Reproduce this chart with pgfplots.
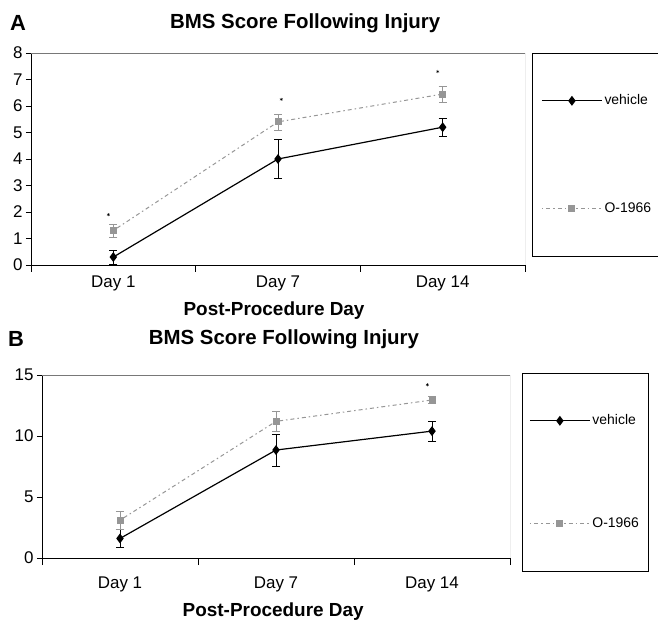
\documentclass[border=0pt]{standalone}
\usepackage{fontspec}
\setmainfont{Liberation Sans}
\usepackage{pgfplots}
\pgfplotsset{compat=1.18}
\definecolor{ogray}{RGB}{150,150,150}
\definecolor{framegray}{RGB}{120,120,120}
\newcommand{\fs}[1]{\fontsize{#1}{#1}\selectfont}
\pgfplotsset{
  bmsstyle/.style={
    scale only axis,
    anchor=south west,
    xmin=-0.5, xmax=2.5,
    xtick={0,1,2},
    xticklabels={Day 1,Day 7,Day 14},
    minor xtick={-0.5,0.5,1.5,2.5},
    major x tick style={draw=none},
    tick align=outside,
    major tick length=5bp,
    minor tick length=7bp,
    tick style={black, line width=0.6pt},
    axis x line*=bottom,
    axis y line*=left,
    axis line style={-, black, line width=0.8pt},
    tick label style={font=\fs{17}},
    /pgf/number format/assume math mode=true,
    xlabel={Post-Procedure Day},
    xlabel style={font=\bfseries\fs{19}, anchor=center},
    title style={font=\bfseries\fs{20.5}, anchor=center},
    legend image code/.code={\draw[mark repeat=2,mark phase=2] plot coordinates {(0bp,0bp) (30bp,0bp) (60bp,0bp)};},
    legend cell align=left,
    legend style={draw=black, line width=0.6pt, fill=white, anchor=north west, font=\fs{14},
      nodes={inner sep=2bp, text height=10bp, text depth=3bp}},
    error bars/y dir=both,
    error bars/y explicit,
    error bars/error mark options={rotate=90, mark size=4bp},
  },
  vehstyle/.style={black, line width=1.2pt, mark=diamond*, mark size=4bp, mark options={solid, fill=black},
    error bars/error bar style={black, line width=0.7pt, solid}},
  ostyle/.style={ogray, line width=1.0pt, dash pattern=on 1.5pt off 3pt on 4pt off 3pt, mark=square*, mark size=3bp, mark options={solid, fill=ogray},
    error bars/error bar style={ogray, line width=0.8pt, solid}},
}
\begin{document}
\begin{tikzpicture}
\useasboundingbox (0,0) rectangle (658bp,621bp);
% ---------- Panel A ----------
\begin{axis}[bmsstyle,
  at={(31bp,356bp)}, width=494bp, height=212bp,
  ymin=0, ymax=8, ytick={0,1,...,8},
  xticklabel style={yshift=-2bp},
  title={BMS Score Following Injury},
  title style={at={(rel axis cs:0.555,1.113)}},
  xlabel style={at={(rel axis cs:0.492,-0.215)}},
  legend style={at={(rel axis cs:1.0142,1)}, inner xsep=9bp, inner ysep=39bp, row sep=91bp},
]
\addplot[vehstyle] coordinates {(0,0.3) +- (0,0.27) (1,4.0) +- (0,0.73) (2,5.2) +- (0,0.35)};
\addlegendentry{vehicle}
\addplot[ostyle] coordinates {(0,1.3) +- (0,0.25) (1,5.4) +- (0,0.3) (2,6.45) +- (0,0.3)};
\addlegendentry{O-1966}
\addplot[only marks, mark=asterisk, mark size=1.6bp, black, forget plot] coordinates {(-0.03,1.9) (1.02,6.25) (1.97,7.3)};
\draw[framegray, line width=0.6pt] (rel axis cs:0,1) -- (rel axis cs:1,1) -- (rel axis cs:1,0);
\end{axis}
% ---------- Panel B ----------
\begin{axis}[bmsstyle,
  at={(42bp,63bp)}, width=468bp, height=183bp,
  ymin=0, ymax=15, ytick={0,5,10,15},
  xticklabel style={yshift=-10bp},
  title={BMS Score Following Injury},
  title style={at={(rel axis cs:0.517,1.164)}},
  xlabel style={at={(rel axis cs:0.494,-0.295)}},
  legend style={at={(rel axis cs:1.0256,1.011)}, inner xsep=7bp, inner ysep=39bp, row sep=86bp},
]
\addplot[vehstyle] coordinates {(0,1.6) +- (0,0.75) (1,8.85) +- (0,1.3) (2,10.4) +- (0,0.8)};
\addlegendentry{vehicle}
\addplot[ostyle] coordinates {(0,3.1) +- (0,0.7) (1,11.2) +- (0,0.8) (2,12.95) +- (0,0.3)};
\addlegendentry{O-1966}
\addplot[only marks, mark=asterisk, mark size=1.6bp, black, forget plot] coordinates {(1.97,14.2)};
\draw[framegray, line width=0.6pt] (rel axis cs:0,1) -- (rel axis cs:1,1) -- (rel axis cs:1,0);
\end{axis}
% panel letters
\node[font=\bfseries\fs{22}, anchor=center] at (18bp,598bp) {A};
\node[font=\bfseries\fs{22}, anchor=center] at (16bp,282bp) {B};
\end{tikzpicture}
\end{document}
